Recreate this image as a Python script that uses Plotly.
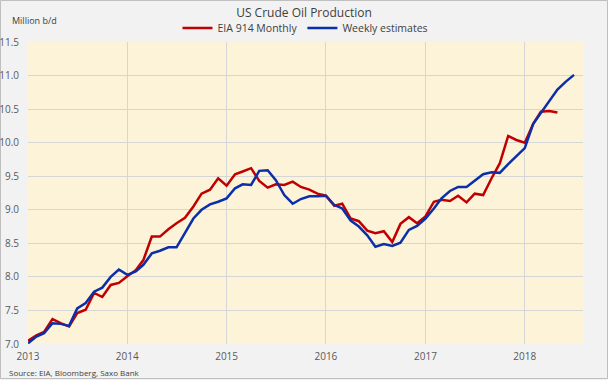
import plotly.graph_objects as go
import pandas as pd

# EIA 914 Monthly (million b/d), Jan 2013 - May 2018
eia_start = "2013-01-01"
eia_values = [
    7.05, 7.13, 7.18, 7.37, 7.31, 7.26, 7.46, 7.51, 7.76, 7.70, 7.88, 7.91,   # 2013
    8.01, 8.10, 8.25, 8.60, 8.60, 8.71, 8.80, 8.88, 9.05, 9.24, 9.30, 9.47,   # 2014
    9.36, 9.53, 9.57, 9.62, 9.43, 9.33, 9.38, 9.37, 9.42, 9.34, 9.30, 9.24,   # 2015
    9.21, 9.06, 9.09, 8.87, 8.83, 8.69, 8.65, 8.68, 8.52, 8.79, 8.89, 8.80,   # 2016
    8.90, 9.12, 9.15, 9.13, 9.21, 9.11, 9.24, 9.22, 9.47, 9.69, 10.10, 10.04, # 2017
    10.00, 10.28, 10.46, 10.47, 10.45,                                         # 2018
]

# Weekly estimates (million b/d), Jan 2013 - Jul 2018
weekly_start = "2013-01-01"
weekly_values = [
    7.01, 7.11, 7.16, 7.31, 7.30, 7.27, 7.53, 7.61, 7.78, 7.84, 8.00, 8.11,   # 2013
    8.03, 8.08, 8.18, 8.35, 8.39, 8.44, 8.44, 8.65, 8.87, 9.00, 9.08, 9.12,   # 2014
    9.17, 9.32, 9.38, 9.37, 9.58, 9.59, 9.44, 9.22, 9.09, 9.16, 9.20, 9.20,   # 2015
    9.21, 9.07, 9.02, 8.84, 8.75, 8.62, 8.45, 8.49, 8.46, 8.51, 8.70, 8.76,   # 2016
    8.87, 9.02, 9.17, 9.28, 9.34, 9.34, 9.43, 9.53, 9.56, 9.55, 9.68, 9.80,   # 2017
    9.92, 10.28, 10.44, 10.63, 10.79, 10.91, 11.01,                            # 2018
]

year_ticks = ["2013-01-01", "2014-01-01", "2015-01-01", "2016-01-01", "2017-01-01", "2018-01-01"]
year_labels = ["2013", "2014", "2015", "2016", "2017", "2018"]
y_ticks = [7.0, 7.5, 8.0, 8.5, 9.0, 9.5, 10.0, 10.5, 11.0, 11.5]

eia_dates = pd.date_range(eia_start, periods=len(eia_values), freq="MS")
weekly_dates = pd.date_range(weekly_start, periods=len(weekly_values), freq="MS")

FONT = "Open Sans, Noto Sans, sans-serif"

fig = go.Figure()
fig.add_trace(go.Scatter(x=eia_dates, y=eia_values, mode="lines", name="EIA 914 Monthly",
                         line=dict(color="#c00000", width=2.5)))
fig.add_trace(go.Scatter(x=weekly_dates, y=weekly_values, mode="lines", name="Weekly estimates",
                         line=dict(color="#0a2fa8", width=2.5)))

W, H = 608, 380
L, R, T, B = 28, 25, 42, 36
pw = W - L - R
ph = H - T - B

fig.update_layout(
    template="none",
    width=W, height=H,
    margin=dict(l=L, r=R, t=T, b=B, autoexpand=False),
    paper_bgcolor="#f2f2f2",
    plot_bgcolor="#fdf3d9",
    font=dict(family=FONT, size=10, color="#595959"),
    title=dict(text="US Crude Oil Production", x=0.5, xanchor="center", y=1 - 13 / H, yanchor="middle",
               font=dict(family=FONT, size=12, color="#404040")),
    showlegend=True,
    legend=dict(orientation="h", x=0.5, xanchor="center", y=1 + 14 / ph, yanchor="middle",
                font=dict(family=FONT, size=10.5, color="#404040"), bgcolor="rgba(0,0,0,0)",
                itemwidth=30, tracegroupgap=0),
    xaxis=dict(type="date", range=["2013-01-01", "2018-08-03"], tickvals=year_ticks, ticktext=year_labels,
               automargin=False,
               showgrid=True, gridcolor="#d6d6d6", gridwidth=1.3, zeroline=False, showline=False,
               ticks="", ticklabelstandoff=5, tickfont=dict(size=10, color="#595959")),
    yaxis=dict(range=[7.0, 11.5], tickvals=y_ticks, ticktext=[f"{v:.1f}" for v in y_ticks],
               automargin=False,
               showgrid=True, gridcolor="#d6d6d6", gridwidth=1.3, zeroline=False, showline=False,
               ticks="", ticklabelstandoff=8, tickfont=dict(size=10, color="#595959")),
    annotations=[
        dict(text="Million b/d", xref="paper", yref="paper", x=-18 / pw, y=1 + 22 / ph,
             xanchor="left", yanchor="middle", showarrow=False,
             font=dict(family=FONT, size=9, color="#404040")),
        dict(text="Source: EIA, Bloomberg, Saxo Bank", xref="paper", yref="paper", x=-21 / pw, y=-28 / ph,
             xanchor="left", yanchor="middle", showarrow=False,
             font=dict(family=FONT, size=8, color="#404040")),
    ],
    shapes=[
        dict(type="rect", xref="paper", yref="paper",
             x0=-(L - 0.5) / pw, x1=(W - L - 0.5) / pw,
             y0=-(B - 1.5) / ph, y1=(ph + T - 0.5) / ph,
             line=dict(color="#bfbfbf", width=1), fillcolor="rgba(0,0,0,0)", layer="below"),
    ],
)

fig.write_html("out.html", config={"displayModeBar": False},
               post_script="document.body.style.margin='0px';")
